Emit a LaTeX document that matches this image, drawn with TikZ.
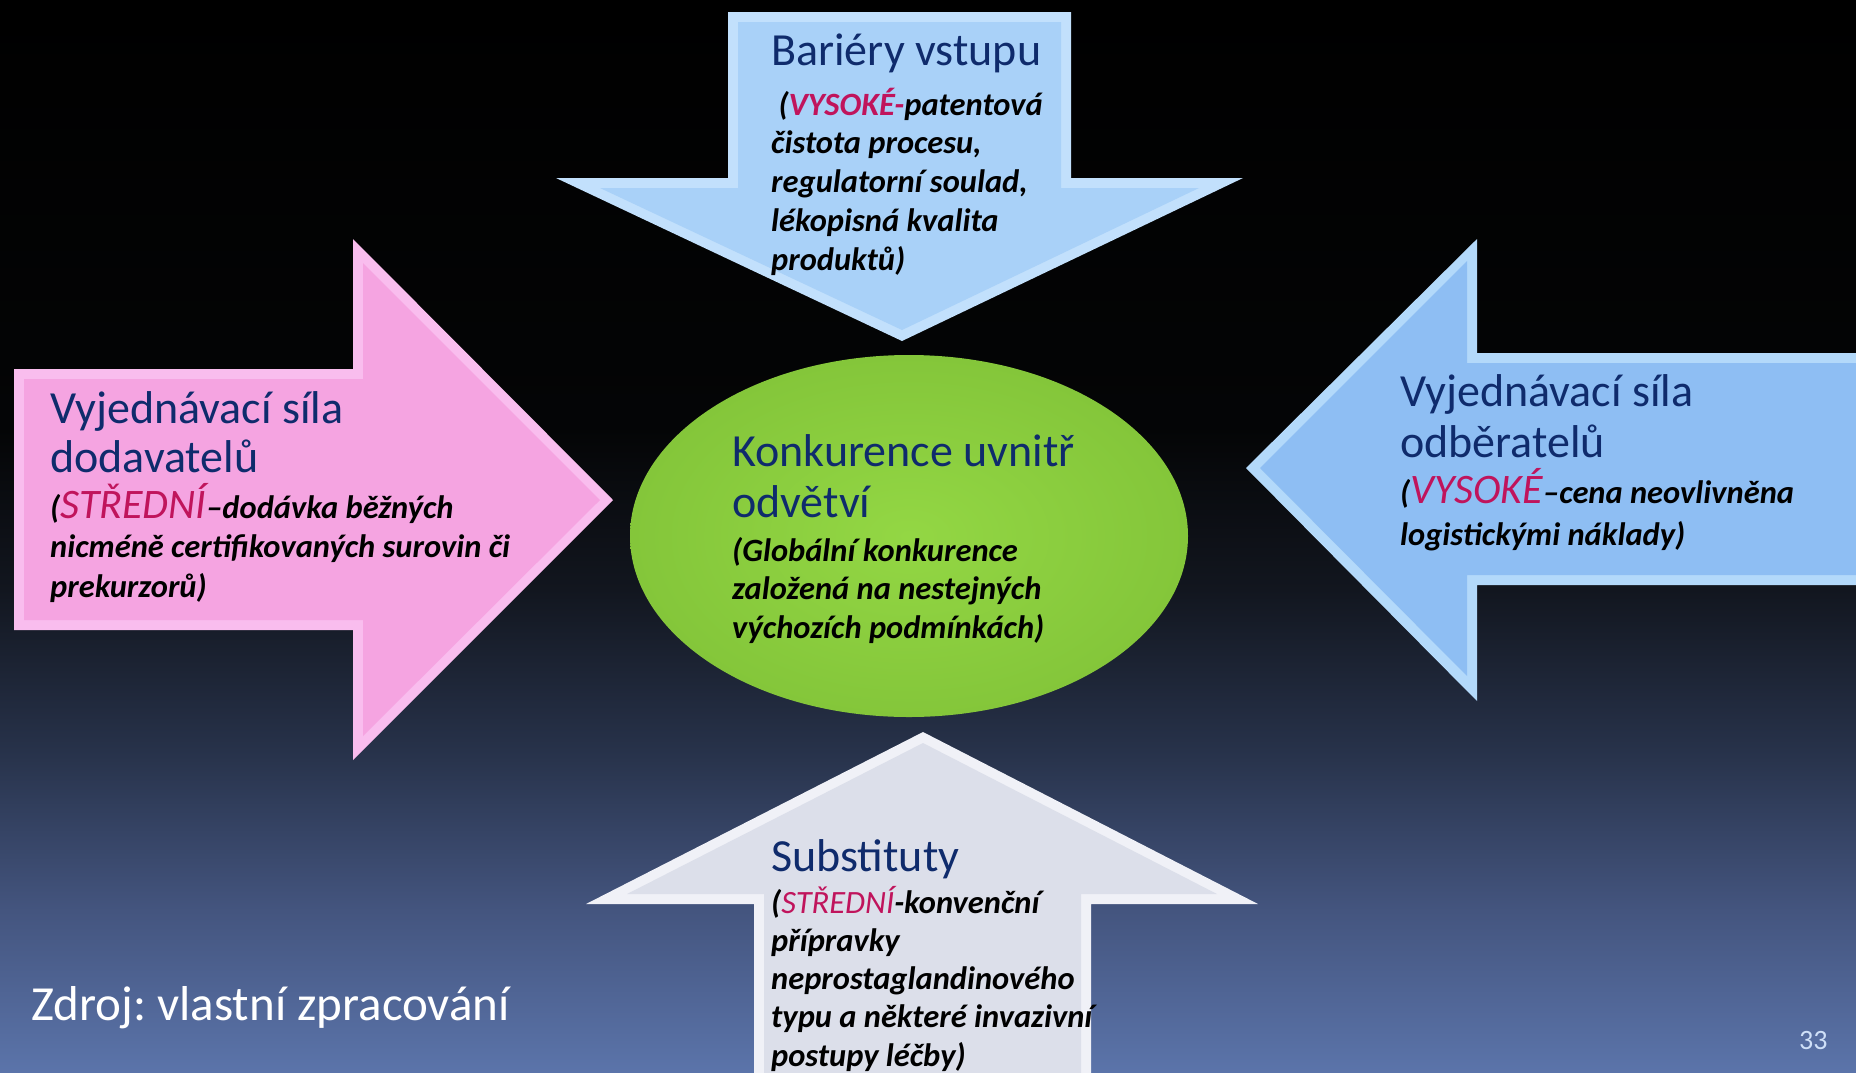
\documentclass[tikz,border=0pt]{standalone}
\usepackage{fontspec}
\setmainfont{Carlito}
\usetikzlibrary{shadings}
\frenchspacing
\definecolor{navy}{HTML}{0F2B6C}
\definecolor{mag}{HTML}{C0145C}
\definecolor{bgA}{HTML}{5B74AA}
\definecolor{bgB}{HTML}{44557F}
\definecolor{bgC}{HTML}{27324A}
\definecolor{bgD}{HTML}{12161F}
\definecolor{bgE}{HTML}{040506}
\definecolor{pinkO}{HTML}{F9BDEE}
\definecolor{pinkI}{HTML}{F5A4E1}
\definecolor{topO}{HTML}{C2E0FC}
\definecolor{topI}{HTML}{A9D1F8}
\definecolor{rgtO}{HTML}{B3D9FA}
\definecolor{rgtI}{HTML}{8EBEF3}
\definecolor{botO}{HTML}{F0F1F7}
\definecolor{botI}{HTML}{DCDFEA}
\definecolor{grnI}{HTML}{93D744}
\definecolor{grnO}{HTML}{84C63A}
\definecolor{pagenum}{HTML}{CFE0F8}
\pgfdeclareverticalshading{bgshade}{100bp}{color(0bp)=(bgA); color(25bp)=(bgA); color(32.5bp)=(bgB); color(40bp)=(bgC); color(47.5bp)=(bgD); color(55bp)=(bgE); color(75bp)=(black); color(100bp)=(black)}
\newcommand\tlines[1]{\begin{tabular}[t]{@{}l@{}}#1\end{tabular}}
\newcommand\hl[1]{\textcolor{mag}{#1}}
\newcommand\bighl[1]{\smash{\textcolor{mag}{\mdseries\fontsize{42}{39}\selectfont #1}}}
\tikzset{
  titletext/.style={anchor=base west, inner sep=0pt, text=navy, font=\fontsize{46}{49}\selectfont},
  bodytext/.style={anchor=base west, inner sep=0pt, text=black, font=\fontsize{32.5}{39}\selectfont\bfseries\itshape}
}
\begin{document}
\begin{tikzpicture}[x=1pt,y=-1pt]
\useasboundingbox (0,0) rectangle (1856,1072);
\clip (0,0) rectangle (1856,1072);
\shade[shading=bgshade] (0,0) rectangle (1856,1072);
% top arrow (down)
\fill[topO] (728,12) -- (1071,12) -- (1071,178) -- (1243,178) -- (902,341) -- (556,178) -- (728,178) -- cycle;
\fill[topI] (738,22) -- (1061,22) -- (1061,188) -- (1199,188) -- (902,330) -- (600,188) -- (738,188) -- cycle;
% left arrow (right)
\fill[pinkO] (14,369) -- (353,369) -- (353,239) -- (613,500) -- (353,760) -- (353,630) -- (14,630) -- cycle;
\fill[pinkI] (24,379) -- (363,379) -- (363,263) -- (600,500) -- (363,736) -- (363,620) -- (24,620) -- cycle;
% right arrow (left)
\fill[rgtO] (1870,353) -- (1477,353) -- (1477,239) -- (1246,468) -- (1477,701) -- (1477,585) -- (1870,585) -- cycle;
\fill[rgtI] (1870,363) -- (1467,363) -- (1467,261) -- (1260,468) -- (1467,676) -- (1467,575) -- (1870,575) -- cycle;
% bottom arrow (up)
\fill[botO] (923,732) -- (1258,904) -- (1091,904) -- (1091,1090) -- (754,1090) -- (754,904) -- (586,904) -- cycle;
\fill[botI] (923,743) -- (1217,894) -- (1081,894) -- (1081,1090) -- (764,1090) -- (764,894) -- (627,894) -- cycle;
% ellipse
\shade[inner color=grnI, outer color=grnO] (909,536) ellipse [x radius=279, y radius=181];
% texts
\node[titletext] (toptitle) at (771,65) {Bariéry vstupu};
\node[bodytext, font=\fontsize{32.5}{38.8}\selectfont\bfseries\itshape] (topbody) at (771,115) {\tlines{~(\hl{VYSOKÉ-}patentová\\ čistota procesu,\\ regulatorní soulad,\\ lékopisná kvalita\\ produktů)}};
\node[titletext] (lefttitle) at (50,423) {\tlines{Vyjednávací síla\\ dodavatelů}};
\node[bodytext, font=\fontsize{32.5}{39.5}\selectfont\bfseries\itshape] (leftbody) at (50,518) {\tlines{(\bighl{STŘEDNÍ}–dodávka běžných\\ nicméně certifikovaných surovin či\\ prekurzorů)}};
\node[titletext, font=\fontsize{46}{51}\selectfont] (righttitle) at (1400,406) {\tlines{Vyjednávací síla\\ odběratelů}};
\node[bodytext, font=\fontsize{32.5}{42}\selectfont\bfseries\itshape] (rightbody) at (1400,503) {\tlines{(\bighl{VYSOKÉ}–cena neovlivněna\\ logistickými náklady)}};
\node[titletext, font=\fontsize{46}{51}\selectfont] (midtitle) at (732,466) {\tlines{Konkurence uvnitř\\ odvětví}};
\node[bodytext, font=\fontsize{32.5}{38.5}\selectfont\bfseries\itshape] (midbody) at (732,561) {\tlines{(Globální konkurence\\ založená na nestejných\\ výchozích podmínkách)}};
\node[titletext] (bottitle) at (771,871) {Substituty};
\node[bodytext, font=\fontsize{32.5}{38.3}\selectfont\bfseries\itshape] (botbody) at (771,913) {\tlines{(\hl{\mdseries STŘEDNÍ}-konvenční\\ přípravky\\ neprostaglandinového\\ typu a některé invazivní\\ postupy léčby)}};
\node[anchor=base west, inner sep=0pt, text=white, font=\fontsize{49}{52}\selectfont] (source) at (31,1020) {Zdroj: vlastní zpracování};
\node[anchor=base west, inner sep=0pt, text=pagenum, font=\fontsize{28}{30}\selectfont] (pnum) at (1799,1049) {33};
\end{tikzpicture}
\end{document}
